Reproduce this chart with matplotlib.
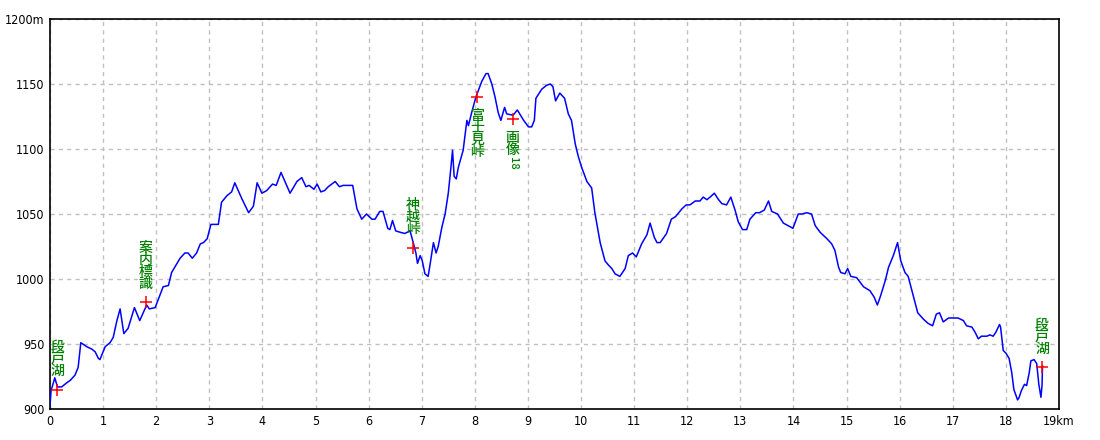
import numpy as np
import matplotlib
matplotlib.use("Agg")
import matplotlib.pyplot as plt

plt.rcParams['font.family'] = ['Noto Sans CJK JP', 'DejaVu Sans']

# --- profile (km, m) ---
dist_km = [
    0.00, 0.02, 0.09, 0.14, 0.22, 0.31, 0.38, 0.47, 0.53, 0.58,
    0.69, 0.79, 0.85, 0.91, 0.94, 1.04, 1.13, 1.19, 1.26, 1.32,
    1.39, 1.47, 1.59, 1.69, 1.82, 1.87, 1.98, 2.13, 2.23, 2.29,
    2.45, 2.54, 2.60, 2.68, 2.76, 2.83, 2.89, 2.96, 3.03, 3.17,
    3.23, 3.33, 3.42, 3.48, 3.61, 3.74, 3.83, 3.90, 3.99, 4.08,
    4.19, 4.26, 4.35, 4.52, 4.65, 4.74, 4.82, 4.88, 4.97, 5.03,
    5.10, 5.17, 5.24, 5.37, 5.45, 5.52, 5.70, 5.78, 5.87, 5.96,
    6.06, 6.12, 6.21, 6.27, 6.36, 6.40, 6.45, 6.51, 6.59, 6.68,
    6.78, 6.84, 6.89, 6.92, 6.97, 7.01, 7.06, 7.12, 7.16, 7.22,
    7.27, 7.31, 7.38, 7.44, 7.50, 7.55, 7.58, 7.61, 7.65, 7.69,
    7.78, 7.85, 7.88, 7.94, 8.02, 8.13, 8.21, 8.25, 8.32, 8.38,
    8.44, 8.49, 8.56, 8.60, 8.72, 8.80, 8.92, 9.01, 9.07, 9.12,
    9.15, 9.26, 9.35, 9.42, 9.47, 9.52, 9.60, 9.69, 9.76, 9.82,
    9.89, 9.95, 10.01, 10.11, 10.20, 10.26, 10.36, 10.45, 10.51, 10.58,
    10.64, 10.73, 10.83, 10.89, 10.97, 11.04, 11.14, 11.24, 11.30, 11.38,
    11.43, 11.49, 11.61, 11.70, 11.78, 11.90, 11.98, 12.05, 12.15, 12.24,
    12.30, 12.37, 12.43, 12.51, 12.59, 12.65, 12.74, 12.82, 12.90, 12.96,
    13.04, 13.12, 13.18, 13.29, 13.36, 13.45, 13.53, 13.59, 13.70, 13.81,
    13.90, 13.99, 14.09, 14.16, 14.25, 14.34, 14.41, 14.50, 14.63, 14.72,
    14.78, 14.85, 14.89, 14.97, 15.02, 15.08, 15.19, 15.32, 15.44, 15.52,
    15.58, 15.64, 15.73, 15.79, 15.88, 15.96, 16.02, 16.10, 16.16, 16.23,
    16.34, 16.45, 16.53, 16.62, 16.69, 16.75, 16.82, 16.92, 17.10, 17.20,
    17.26, 17.36, 17.42, 17.48, 17.54, 17.64, 17.70, 17.76, 17.81, 17.88,
    17.90, 17.95, 18.00, 18.06, 18.11, 18.15, 18.22, 18.25, 18.29, 18.35,
    18.39, 18.44, 18.47, 18.53, 18.58, 18.62, 18.66, 18.68, 18.69,
]
elev_m = [
    903, 914, 924, 917, 917, 920, 922, 926, 932, 951,
    948, 946, 944, 939, 938, 948, 951, 955, 968, 977,
    958, 962, 978, 968, 980, 977, 978, 994, 995, 1005,
    1016, 1020, 1020, 1016, 1020, 1027, 1028, 1031, 1042, 1042,
    1059, 1064, 1067, 1074, 1062, 1051, 1056, 1074, 1066, 1068,
    1073, 1072, 1082, 1066, 1075, 1078, 1071, 1072, 1069, 1073,
    1067, 1068, 1071, 1075, 1071, 1072, 1072, 1054, 1046, 1050,
    1046, 1046, 1052, 1052, 1039, 1038, 1045, 1037, 1036, 1035,
    1037, 1028, 1020, 1012, 1018, 1014, 1004, 1002, 1012, 1028,
    1020, 1025, 1040, 1050, 1066, 1086, 1099, 1079, 1077, 1086,
    1099, 1122, 1118, 1128, 1140, 1152, 1158, 1158, 1150, 1140,
    1128, 1122, 1132, 1127, 1126, 1130, 1122, 1117, 1117, 1122,
    1139, 1146, 1149, 1150, 1148, 1137, 1143, 1139, 1127, 1122,
    1104, 1094, 1086, 1075, 1070, 1051, 1028, 1014, 1011, 1008,
    1004, 1002, 1008, 1018, 1020, 1017, 1027, 1034, 1043, 1032,
    1028, 1028, 1035, 1046, 1048, 1054, 1057, 1057, 1060, 1060,
    1063, 1061, 1063, 1066, 1061, 1058, 1057, 1063, 1053, 1044,
    1038, 1038, 1046, 1051, 1051, 1053, 1060, 1052, 1050, 1043,
    1041, 1039, 1050, 1050, 1051, 1050, 1041, 1036, 1031, 1027,
    1022, 1009, 1005, 1004, 1008, 1002, 1001, 994, 991, 986,
    980, 987, 999, 1009, 1018, 1028, 1014, 1005, 1002, 991,
    974, 969, 966, 964, 973, 974, 967, 970, 970, 968,
    964, 963, 959, 954, 956, 956, 957, 956, 959, 965,
    963, 945, 943, 939, 928, 915, 907, 909, 914, 919,
    918, 928, 937, 938, 935, 919, 909, 918, 933,
]

# --- waypoints ---
wp_km = [0.14, 1.80, 6.83, 8.05, 8.71, 18.68]
wp_elev = [915, 982, 1024, 1140, 1123, 932]
wp_name = [["段", "戸", "湖"], ["案", "内", "標", "識"], ["神", "越", "峠"],
           ["富", "士", "見", "峠"], ["画", "像", "18"], ["段", "戸", "湖"]]
wp_above = [True, True, True, False, False, True]

x_ticks = list(range(0, 20))
x_labels = [str(v) for v in x_ticks[:-1]] + ["19km"]
y_ticks = [900, 950, 1000, 1050, 1100, 1150, 1200]
y_labels = [str(v) for v in y_ticks[:-1]] + ["1200m"]

fig = plt.figure(figsize=(11, 4.4), dpi=100)
ax = fig.add_axes([50 / 1100, 31 / 440, 1009 / 1100, 390 / 440])

ax.plot(dist_km, elev_m, color="#0000ff", lw=1.1, zorder=3)

green = "#008000"
for km, el, name, above in zip(wp_km, wp_elev, wp_name, wp_above):
    ax.plot(km, el, marker="+", color="red", ms=8, mew=1.1, zorder=4)
    n = len(name)
    for i, ch in enumerate(name):
        if above:
            off = 13.5 + 8.6 * (n - 1 - i)
        else:
            off = -(13.5 + 8.6 * i)
        if ch.isascii():
            # horizontal digits turned sideways, as in vertical writing
            rot, fs, off = -90, 8, off - 1.5
        else:
            rot, fs = 0, 10
        ax.annotate(ch, (km, el), xytext=(0, off), textcoords="offset points",
                    ha="center", va="center", fontsize=fs, color=green,
                    fontweight="medium", rotation=rot, zorder=5)

ax.set_xlim(0, 19)
ax.set_ylim(900, 1200)
ax.set_xticks(x_ticks)
ax.set_xticklabels(x_labels)
ax.set_yticks(y_ticks)
ax.set_yticklabels(y_labels)
ax.tick_params(length=0, labelsize=9, pad=4)
for lab in ax.get_xticklabels() + ax.get_yticklabels():
    lab.set_family(["DejaVu Sans"])
    lab.set_stretch("condensed")
ax.grid(True, color="#c0c0c0", ls=(0, (3, 3)), lw=1)
for s in ax.spines.values():
    s.set_linewidth(1.2)

fig.savefig("out.png", dpi=100)
